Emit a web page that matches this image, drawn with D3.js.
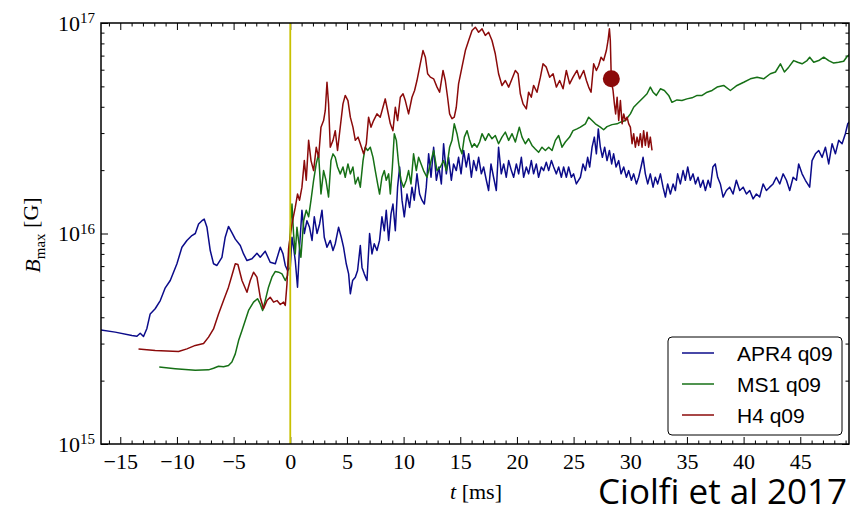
<!DOCTYPE html>
<html>
<head>
<meta charset="utf-8">
<script src="https://cdn.jsdelivr.net/npm/d3@7"></script>
<style>
  body { margin: 0; background: #fff; }
  svg { display: block; }
</style>
</head>
<body>
<svg id="chart" width="850" height="508"></svg>
<script>
// t in ms, B_max in units of 1e16 G
const seriesNames = ["APR4 q09", "MS1 q09", "H4 q09"];
const seriesColors = ["#0b0b8a", "#167016", "#8b0a0a"];

const apr4 = [
  [-17.0,0.35],[-15.45,0.34],[-13.97,0.328],[-13.53,0.325],[-13.24,0.336],[-12.95,0.324],[-12.65,0.354],
  [-12.36,0.415],[-11.92,0.439],[-11.47,0.48],[-11.03,0.552],[-10.59,0.598],[-10.0,0.718],[-9.56,0.861],
  [-9.12,0.927],[-8.68,0.978],[-8.38,1.0],[-8.09,1.11],[-7.79,1.15],[-7.59,1.17],[-7.35,1.07],[-7.06,0.83],
  [-6.77,0.718],[-6.47,0.705],[-6.03,0.771],[-5.74,0.96],[-5.45,1.08],[-5.15,1.01],[-4.85,0.94],[-4.41,0.877],
  [-4.12,0.80],[-3.82,0.744],[-3.38,0.758],[-2.94,0.806],[-2.65,0.771],[-2.21,0.824],[-1.77,0.73],[-1.32,0.718],
  [-0.88,0.861],[-0.64,0.80],[-0.44,0.705],[-0.24,0.667],
  [0.00,0.69],[0.15,0.96],[0.29,0.861],[0.44,0.744],[0.64,0.556],[0.82,0.861],[1.03,1.29],[1.24,1.0],
  [1.47,1.15],[1.70,1.07],[1.92,0.927],[2.12,1.20],[2.36,1.0],[2.59,1.11],[2.80,1.29],[3.00,0.96],
  [3.24,0.861],[3.53,0.927],[3.77,0.83],[3.97,0.894],[4.26,1.07],[4.50,0.96],[4.70,0.861],[4.94,0.718],
  [5.15,0.643],[5.30,0.517],[5.50,0.598],[5.74,0.62],[5.94,0.667],[6.18,0.877],[6.33,0.69],[6.53,0.643],
  [6.77,0.598],[7.00,1.0],[7.21,0.80],[7.41,0.894],[7.65,0.83],[7.88,0.927],[8.09,1.20],[8.30,1.03],
  [8.47,1.29],[8.68,0.927],[8.89,1.24],[9.06,1.38],[9.27,1.03],[9.47,1.66],[9.65,2.07],[9.86,1.44],
  [10.06,1.20],[10.30,1.54],[10.53,1.33],[10.74,1.66],[10.94,1.44],[11.18,1.92],[11.41,1.54],
  [11.62,1.44],[11.83,1.38],[12.00,1.66],[12.21,2.39],[12.42,1.85],[12.65,2.57],[12.89,1.79],[13.12,2.07],
  [13.33,1.72],[13.53,2.67],[13.77,1.92],[13.97,2.30],[14.21,1.79],[14.41,2.14],[14.65,1.99],[14.85,2.30],
  [15.07,1.92],[15.30,2.48],[15.53,2.07],[15.74,2.39],[15.98,1.85],[16.18,2.22],[16.42,1.99],[16.62,2.30],
  [16.86,1.92],[17.06,2.07],[17.30,1.79],[17.50,1.60],[17.71,2.14],[17.94,1.85],[18.18,1.60],[18.38,2.57],
  [18.62,1.92],[18.83,2.14],[19.06,1.85],[19.27,2.22],[19.51,1.99],[19.71,1.85],[19.95,2.14],[20.15,1.92],
  [20.39,2.30],[20.59,1.85],[20.83,2.07],[21.03,1.92],[21.27,2.22],[21.47,1.92],[21.71,2.14],[21.91,1.85],
  [22.15,2.07],[22.36,1.99],[22.59,2.18],[22.80,1.99],[23.04,2.22],[23.24,2.07],[23.48,1.92],[23.68,2.07],
  [23.92,1.85],[24.12,2.07],[24.36,1.85],[24.56,2.07],[24.80,1.85],[25.00,1.92],[25.24,1.72],[25.60,1.85],
  [25.83,2.14],[26.04,1.99],[26.24,2.30],[26.42,2.07],[26.63,2.57],[26.83,2.87],[27.01,2.39],[27.18,3.14],
  [27.36,2.57],[27.54,2.30],[27.74,2.57],[27.95,2.22],[28.16,2.48],[28.36,2.14],[28.53,2.39],[28.75,2.07],
  [28.98,2.22],[29.19,1.92],[29.42,2.07],[29.66,1.85],[29.86,1.99],[30.10,1.79],[30.30,1.92],[30.54,1.72],
  [30.74,1.85],[30.95,2.07],[31.13,2.30],[31.33,1.92],[31.54,1.72],[31.77,1.92],[32.01,1.66],[32.21,1.85],
  [32.42,1.72],[32.66,1.92],[32.89,1.66],[33.10,1.49],[33.30,1.72],[33.54,1.54],[33.78,1.72],[33.98,1.60],
  [34.18,1.92],[34.42,1.72],[34.66,1.99],[34.86,1.79],[35.07,2.07],[35.30,1.79],[35.54,1.92],[35.75,1.72],
  [35.98,1.85],[36.19,1.66],[36.42,1.79],[36.63,1.60],[36.87,1.79],[37.07,1.66],[37.29,2.07],[37.50,2.14],
  [37.71,1.85],[37.95,1.72],[38.19,1.49],[38.48,1.60],[38.77,1.66],[39.07,1.54],[39.36,1.79],[39.66,1.60],
  [39.96,1.66],[40.25,1.54],[40.54,1.60],[40.84,1.46],[41.13,1.54],[41.42,1.49],[41.72,1.72],[42.01,1.60],
  [42.30,1.66],[42.60,1.72],[42.89,1.85],[43.19,1.72],[43.49,1.92],[43.78,1.79],[44.07,1.60],[44.37,1.85],
  [44.66,1.79],[44.86,2.14],[45.16,1.92],[45.45,1.79],[45.83,1.66],[46.04,2.22],[46.34,2.39],[46.63,2.48],
  [46.93,2.30],[47.22,2.57],[47.51,2.14],[47.81,2.67],[48.10,2.39],[48.39,2.77],[48.69,2.67],[48.98,2.98],
  [49.19,3.32],[49.43,3.44]
];

const ms1 = [
  [-11.56,0.232],[-10.15,0.228],[-8.38,0.224],[-7.21,0.225],[-6.77,0.229],[-6.33,0.234],[-5.89,0.233],
  [-5.45,0.236],[-5.15,0.245],[-4.85,0.268],[-4.56,0.31],[-4.26,0.346],[-3.97,0.386],[-3.68,0.431],
  [-3.24,0.472],[-2.89,0.49],[-2.65,0.463],[-2.44,0.431],[-2.21,0.48],[-1.92,0.556],[-1.62,0.62],
  [-1.32,0.66],[-1.03,0.655],[-0.73,0.643],[-0.44,0.598],[-0.24,0.632],
  [0.15,1.38],[0.29,1.0],[0.44,0.80],[0.59,1.07],[0.73,0.927],[0.94,0.771],[1.18,1.15],[1.41,1.29],
  [1.62,1.20],[1.83,1.44],[2.06,1.79],[2.29,2.14],[2.50,2.39],[2.71,1.54],[2.94,1.99],[3.15,1.79],
  [3.38,1.49],[3.59,2.22],[3.77,2.39],[3.97,2.30],[4.17,2.07],[4.41,1.92],[4.65,2.07],[4.85,1.85],
  [5.09,2.14],[5.30,1.92],[5.53,2.07],[5.74,1.72],[5.98,1.85],[6.18,1.66],[6.42,2.22],[6.62,2.57],
  [6.83,2.48],[7.06,2.57],[7.30,2.30],[7.50,1.99],[7.71,1.72],[7.88,1.54],[8.09,1.85],[8.30,1.99],
  [8.47,1.79],[8.68,1.92],[8.83,1.54],[9.01,2.07],[9.18,2.98],[9.36,2.77],[9.56,2.14],[9.77,1.79],
  [10.00,1.66],[10.24,1.79],[10.44,1.99],[10.65,1.72],[10.88,2.39],[11.12,1.99],[11.32,2.30],
  [11.76,1.99],[12.06,1.85],[12.36,2.14],[12.65,2.48],[12.95,1.99],[13.24,2.07],[13.53,2.22],[13.77,1.99],
  [14.06,2.57],[14.27,2.77],[14.47,3.32],[14.71,2.98],[14.94,2.57],[15.15,2.39],[15.36,2.87],[15.60,3.08],
  [15.83,2.77],[16.04,2.57],[16.24,2.67],[16.48,2.57],[16.71,2.72],[16.92,2.98],[17.21,2.77],[17.50,2.98],
  [17.80,2.82],[18.09,2.92],[18.38,2.67],[18.68,2.87],[18.98,3.03],[19.27,2.77],[19.57,2.98],[19.86,2.72],
  [20.21,3.20],[20.45,2.87],[20.74,2.67],[21.03,2.82],[21.33,2.62],[21.62,2.52],[21.91,2.43],[22.21,2.57],
  [22.51,2.48],[22.80,2.57],[23.10,2.48],[23.39,2.77],[23.68,2.92],[23.98,2.57],[24.27,2.72],[24.65,2.87],
  [24.95,3.08],[25.30,3.14],[25.60,3.20],[26.04,3.32],[26.33,3.57],[26.63,3.44],[26.92,3.32],[27.36,3.20],
  [27.65,3.11],[27.95,3.22],[28.39,3.29],[28.84,3.32],[29.13,3.38],[29.57,3.44],[30.01,3.70],[30.30,3.98],
  [30.60,4.13],[30.89,4.28],[31.18,4.44],[31.48,4.61],[31.77,4.96],[32.01,4.69],[32.30,4.53],[32.66,4.87],
  [33.01,4.78],[33.39,4.53],[33.68,4.20],[34.12,4.31],[34.56,4.28],[35.00,4.36],[35.45,4.41],[35.90,4.53],
  [36.34,4.53],[36.78,4.69],[37.22,4.78],[37.66,4.96],[38.24,5.05],[38.83,4.78],[39.42,5.05],[40.01,5.23],
  [40.60,5.43],[41.19,5.53],[41.77,5.43],[42.36,5.74],[42.81,5.85],[43.25,6.40],[43.60,5.85],[43.98,6.17],
  [44.42,6.63],[44.77,6.51],[45.16,6.40],[45.60,6.63],[45.83,6.88],[46.19,6.51],[46.63,6.63],[47.07,6.88],
  [47.51,6.63],[47.95,6.45],[48.39,6.51],[48.83,6.58],[49.13,6.93],[49.43,7.14]
];

const h4 = [
  [-13.39,0.283],[-11.92,0.278],[-9.86,0.275],[-9.12,0.283],[-8.38,0.294],[-7.65,0.30],[-7.21,0.322],
  [-6.77,0.352],[-6.33,0.415],[-5.89,0.48],[-5.45,0.556],[-5.15,0.632],[-4.85,0.718],[-4.62,0.712],
  [-4.26,0.598],[-3.82,0.526],[-3.53,0.598],[-3.24,0.655],[-2.94,0.62],[-2.65,0.498],[-2.36,0.439],
  [-2.06,0.48],[-1.77,0.498],[-1.47,0.472],[-1.17,0.48],[-0.88,0.46],[-0.59,0.472],[-0.44,0.455],
  [-0.29,0.577],[-0.15,0.846],
  [0.15,1.11],[0.44,1.33],[0.64,1.54],[0.82,1.44],[1.03,1.66],[1.24,2.22],[1.41,1.79],[1.62,2.77],
  [1.83,2.22],[2.06,1.99],[2.29,2.57],[2.50,2.30],[2.71,3.20],[2.94,3.44],[3.09,3.84],[3.24,5.23],
  [3.38,4.13],[3.53,2.57],[3.77,2.77],[3.97,3.08],[4.17,2.48],[4.41,3.20],[4.65,4.13],[4.85,4.53],
  [5.09,4.28],[5.30,3.57],[5.53,3.20],[5.74,2.77],[5.98,2.87],[6.18,2.67],[6.47,2.39],[6.71,2.67],
  [6.91,3.57],[7.12,3.20],[7.35,3.44],[7.65,3.70],[7.94,3.57],[8.18,3.98],[8.38,4.36],[8.59,3.84],
  [8.83,3.32],[9.06,3.08],[9.27,3.98],[9.47,3.44],[9.71,4.44],[9.95,4.61],[10.15,4.28],[10.44,3.70],
  [10.74,4.44],[10.97,4.78],[11.18,5.33],[11.47,6.40],[11.71,7.40],[11.92,6.88],[12.12,5.74],[12.36,5.53],
  [12.65,5.43],[12.95,4.96],[13.18,4.69],[13.48,5.95],[13.68,5.33],[13.88,4.44],[14.06,3.70],[14.27,3.51],
  [14.47,3.57],[14.65,3.98],[14.85,5.14],[15.15,6.17],[15.45,7.40],[15.74,8.26],[16.04,9.21],[16.33,9.55],
  [16.62,9.04],[16.92,9.38],[17.21,8.73],[17.50,9.04],[17.80,8.26],[18.09,7.14],[18.38,5.74],[18.68,5.05],
  [18.98,5.33],[19.27,4.96],[19.57,5.43],[19.86,5.95],[20.10,5.74],[20.30,4.61],[20.54,4.13],[20.83,3.91],
  [21.03,4.69],[21.27,4.44],[21.47,5.05],[21.77,4.69],[22.07,5.53],[22.30,6.40],[22.59,6.17],[22.89,5.53],
  [23.19,5.74],[23.48,4.96],[23.77,5.33],[24.07,4.87],[24.36,5.95],[24.65,5.14],[24.95,5.53],[25.30,5.95],
  [25.53,5.43],[25.89,5.95],[26.13,5.33],[26.33,4.96],[26.54,4.69],[26.77,6.40],[27.01,5.95],[27.21,6.28],
  [27.42,6.88],[27.65,6.63],[27.89,7.40],[28.04,8.26],[28.16,9.38],[28.24,8.26],[28.33,5.33],[28.48,4.78],
  [28.60,4.13],[28.71,3.70],[28.84,4.44],[28.98,3.44],[29.13,4.28],[29.28,3.32],[29.42,3.70],[29.57,3.44],
  [29.72,3.57],[29.86,3.32],[30.01,3.20],[30.16,2.67],[30.30,2.98],[30.45,2.57],[30.60,2.87],[30.74,2.62],
  [30.89,2.98],[31.04,2.57],[31.18,3.08],[31.33,2.62],[31.48,3.03],[31.62,2.57],[31.77,2.87],[31.92,2.48]
];

// marker on the H4 curve
const h4Dot = [28.33, 5.43];

const xTicks = [-15, -10, -5, 0, 5, 10, 15, 20, 25, 30, 35, 40, 45];
const yTicks = [1e15, 1e16, 1e17];

const svg = d3.select("#chart");
const m = { left: 101, right: 849, top: 23, bottom: 444 };

const x = d3.scaleLinear().domain([-16.7, 49.3]).range([m.left, m.right]);
const y = d3.scaleLog().domain([1e15, 1e17]).range([m.bottom, m.top]);

const xMinor = d3.range(-16, 50).filter(d => d % 5 !== 0);
const yMinor = [];
[1e15, 1e16].forEach(b => { for (let k = 2; k <= 9; k++) yMinor.push(k * b); });

const serif = "'Liberation Serif', 'DejaVu Serif', serif";
const fmt = d => d < 0 ? "\u2212" + (-d) : String(d);

svg.append("clipPath").attr("id", "clip")
  .append("rect")
  .attr("x", m.left).attr("y", m.top)
  .attr("width", m.right - m.left).attr("height", m.bottom - m.top);

// axes (ticks pointing inward on all four sides)
function addAxis(axis, tx, ty) {
  const g = svg.append("g").attr("transform", `translate(${tx},${ty})`).call(axis);
  g.select(".domain").remove();
  g.selectAll(".tick line").attr("stroke", "#000").attr("stroke-width", 1);
  g.attr("font-family", serif).attr("font-size", 22);
  g.selectAll(".tick text").attr("fill", "#000");
  return g;
}

addAxis(d3.axisBottom(x).tickValues(xTicks).tickSize(-7).tickPadding(9).tickFormat(fmt), 0, m.bottom);
addAxis(d3.axisBottom(x).tickValues(xMinor).tickSize(-3.5).tickFormat(""), 0, m.bottom);
addAxis(d3.axisTop(x).tickValues(xTicks).tickSize(-7).tickFormat(""), 0, m.top);
addAxis(d3.axisTop(x).tickValues(xMinor).tickSize(-3.5).tickFormat(""), 0, m.top);

const yl = addAxis(d3.axisLeft(y).tickValues(yTicks).tickSize(-7).tickPadding(6).tickFormat(""), m.left, 0);
addAxis(d3.axisLeft(y).tickValues(yMinor).tickSize(-3.5).tickFormat(""), m.left, 0);
addAxis(d3.axisRight(y).tickValues(yTicks).tickSize(-7).tickFormat(""), m.right, 0);
addAxis(d3.axisRight(y).tickValues(yMinor).tickSize(-3.5).tickFormat(""), m.right, 0);

// 10^n labels
yl.selectAll(".tick text").each(function(d) {
  const s = d3.select(this).text(null);
  s.append("tspan").text("10");
  s.append("tspan").attr("dy", "-0.5em").attr("font-size", 15).text(Math.round(Math.log10(d)));
});

// curves
const line = d3.line().x(d => x(d[0])).y(d => y(d[1] * 1e16));
const plot = svg.append("g").attr("clip-path", "url(#clip)");
[apr4, ms1, h4].forEach((s, i) => {
  plot.append("path")
    .datum(s)
    .attr("d", line)
    .attr("fill", "none")
    .attr("stroke", seriesColors[i])
    .attr("stroke-width", 1.5)
    .attr("stroke-linejoin", "round");
});

// merger time
plot.append("line")
  .attr("x1", x(0)).attr("x2", x(0))
  .attr("y1", m.top).attr("y2", m.bottom)
  .attr("stroke", "#c8c000").attr("stroke-width", 1.8);

plot.append("circle")
  .attr("cx", x(h4Dot[0])).attr("cy", y(h4Dot[1] * 1e16))
  .attr("r", 8.5).attr("fill", seriesColors[2]);

// frame
svg.append("rect")
  .attr("x", m.left).attr("y", m.top)
  .attr("width", m.right - m.left).attr("height", m.bottom - m.top)
  .attr("fill", "none").attr("stroke", "#000").attr("stroke-width", 1.5);

// axis titles
const xt = svg.append("text")
  .attr("x", 476).attr("y", 499)
  .attr("text-anchor", "middle")
  .attr("font-family", serif).attr("font-size", 22);
xt.append("tspan").attr("font-style", "italic").text("t");
xt.append("tspan").text(" [ms]");

const yt = svg.append("text")
  .attr("transform", "translate(40,235) rotate(-90)")
  .attr("text-anchor", "middle")
  .attr("font-family", serif).attr("font-size", 22);
yt.append("tspan").attr("font-style", "italic").text("B");
yt.append("tspan").attr("font-size", 15).attr("dy", "0.3em").text("max");
yt.append("tspan").attr("dy", "-0.3em").text(" [G]");

// legend
const lg = svg.append("g").attr("transform", "translate(668,337)");
lg.append("rect")
  .attr("width", 174).attr("height", 98).attr("rx", 4)
  .attr("fill", "#fff").attr("stroke", "#000").attr("stroke-width", 1);
seriesNames.forEach((n, i) => {
  const cy = 16 + i * 31;
  lg.append("line")
    .attr("x1", 14).attr("x2", 46).attr("y1", cy).attr("y2", cy)
    .attr("stroke", seriesColors[i]).attr("stroke-width", 1.5);
  lg.append("text")
    .attr("x", 69).attr("y", cy).attr("dy", "0.36em")
    .attr("font-family", "'Liberation Sans', Arial, sans-serif")
    .attr("font-size", 21)
    .text(n);
});

// citation
svg.append("text")
  .attr("x", 598).attr("y", 504)
  .attr("font-family", "'Open Sans', sans-serif")
  .attr("font-size", 35)
  .attr("fill", "#000")
  .text("Ciolfi et al 2017");
</script>
</body>
</html>
